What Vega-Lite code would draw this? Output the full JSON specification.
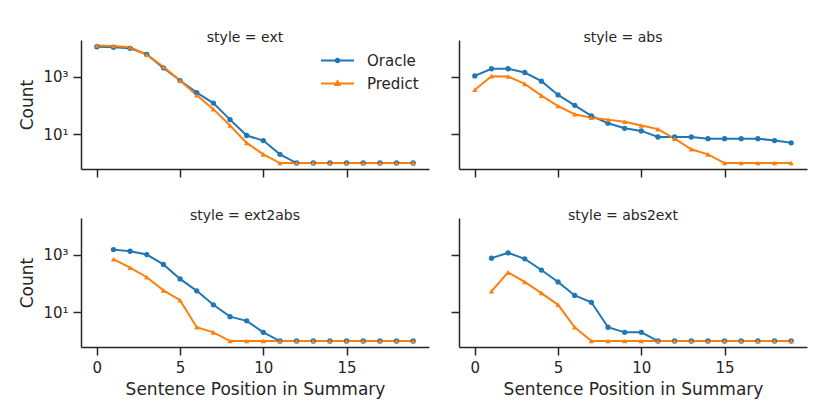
{
  "$schema": "https://vega.github.io/schema/vega-lite/v6.json",
  "autosize": {"type": "pad"},
  "padding": {"left": 18, "top": 31, "right": 10, "bottom": 10},
  "config": {
    "font": "DejaVu Sans",
    "view": {"stroke": null},
    "axis": {
      "grid": false,
      "domainColor": "#262626", "domainWidth": 1.5,
      "tickColor": "#262626", "tickWidth": 1.5, "tickSize": 8,
      "labelColor": "#262626", "labelFontSize": 15, "labelPadding": 5,
      "titleColor": "#262626", "titleFontSize": 17, "titleFontWeight": "normal", "titlePadding": 6
    },
    "title": {"fontSize": 14, "fontWeight": "normal", "color": "#262626", "baseline": "alphabetic", "offset": -5, "dx": -10},
    "legend": {"labelColor": "#262626", "labelFontSize": 15, "padding": 0, "rowPadding": 7}
  },
  "data": {"values": [
    {"style": "ext", "model": "Oracle", "pos": 0, "count": 10800},
    {"style": "ext", "model": "Oracle", "pos": 1, "count": 10300},
    {"style": "ext", "model": "Oracle", "pos": 2, "count": 9500},
    {"style": "ext", "model": "Oracle", "pos": 3, "count": 5850},
    {"style": "ext", "model": "Oracle", "pos": 4, "count": 2000},
    {"style": "ext", "model": "Oracle", "pos": 5, "count": 725},
    {"style": "ext", "model": "Oracle", "pos": 6, "count": 277},
    {"style": "ext", "model": "Oracle", "pos": 7, "count": 120},
    {"style": "ext", "model": "Oracle", "pos": 8, "count": 32},
    {"style": "ext", "model": "Oracle", "pos": 9, "count": 9},
    {"style": "ext", "model": "Oracle", "pos": 10, "count": 6},
    {"style": "ext", "model": "Oracle", "pos": 11, "count": 2},
    {"style": "ext", "model": "Oracle", "pos": 12, "count": 1},
    {"style": "ext", "model": "Oracle", "pos": 13, "count": 1},
    {"style": "ext", "model": "Oracle", "pos": 14, "count": 1},
    {"style": "ext", "model": "Oracle", "pos": 15, "count": 1},
    {"style": "ext", "model": "Oracle", "pos": 16, "count": 1},
    {"style": "ext", "model": "Oracle", "pos": 17, "count": 1},
    {"style": "ext", "model": "Oracle", "pos": 18, "count": 1},
    {"style": "ext", "model": "Oracle", "pos": 19, "count": 1},
    {"style": "ext", "model": "Predict", "pos": 0, "count": 12000},
    {"style": "ext", "model": "Predict", "pos": 1, "count": 11400},
    {"style": "ext", "model": "Predict", "pos": 2, "count": 10300},
    {"style": "ext", "model": "Predict", "pos": 3, "count": 5700},
    {"style": "ext", "model": "Predict", "pos": 4, "count": 2180},
    {"style": "ext", "model": "Predict", "pos": 5, "count": 725},
    {"style": "ext", "model": "Predict", "pos": 6, "count": 224},
    {"style": "ext", "model": "Predict", "pos": 7, "count": 74},
    {"style": "ext", "model": "Predict", "pos": 8, "count": 20},
    {"style": "ext", "model": "Predict", "pos": 9, "count": 5},
    {"style": "ext", "model": "Predict", "pos": 10, "count": 2},
    {"style": "ext", "model": "Predict", "pos": 11, "count": 1},
    {"style": "ext", "model": "Predict", "pos": 12, "count": 1},
    {"style": "ext", "model": "Predict", "pos": 13, "count": 1},
    {"style": "ext", "model": "Predict", "pos": 14, "count": 1},
    {"style": "ext", "model": "Predict", "pos": 15, "count": 1},
    {"style": "ext", "model": "Predict", "pos": 16, "count": 1},
    {"style": "ext", "model": "Predict", "pos": 17, "count": 1},
    {"style": "ext", "model": "Predict", "pos": 18, "count": 1},
    {"style": "ext", "model": "Predict", "pos": 19, "count": 1},
    {"style": "abs", "model": "Oracle", "pos": 0, "count": 1050},
    {"style": "abs", "model": "Oracle", "pos": 1, "count": 1860},
    {"style": "abs", "model": "Oracle", "pos": 2, "count": 1860},
    {"style": "abs", "model": "Oracle", "pos": 3, "count": 1380},
    {"style": "abs", "model": "Oracle", "pos": 4, "count": 690},
    {"style": "abs", "model": "Oracle", "pos": 5, "count": 230},
    {"style": "abs", "model": "Oracle", "pos": 6, "count": 100},
    {"style": "abs", "model": "Oracle", "pos": 7, "count": 43},
    {"style": "abs", "model": "Oracle", "pos": 8, "count": 24},
    {"style": "abs", "model": "Oracle", "pos": 9, "count": 16},
    {"style": "abs", "model": "Oracle", "pos": 10, "count": 13},
    {"style": "abs", "model": "Oracle", "pos": 11, "count": 8},
    {"style": "abs", "model": "Oracle", "pos": 12, "count": 8},
    {"style": "abs", "model": "Oracle", "pos": 13, "count": 8},
    {"style": "abs", "model": "Oracle", "pos": 14, "count": 7},
    {"style": "abs", "model": "Oracle", "pos": 15, "count": 7},
    {"style": "abs", "model": "Oracle", "pos": 16, "count": 7},
    {"style": "abs", "model": "Oracle", "pos": 17, "count": 7},
    {"style": "abs", "model": "Oracle", "pos": 18, "count": 6},
    {"style": "abs", "model": "Oracle", "pos": 19, "count": 5},
    {"style": "abs", "model": "Predict", "pos": 0, "count": 350},
    {"style": "abs", "model": "Predict", "pos": 1, "count": 1030},
    {"style": "abs", "model": "Predict", "pos": 2, "count": 1000},
    {"style": "abs", "model": "Predict", "pos": 3, "count": 555},
    {"style": "abs", "model": "Predict", "pos": 4, "count": 217},
    {"style": "abs", "model": "Predict", "pos": 5, "count": 95},
    {"style": "abs", "model": "Predict", "pos": 6, "count": 49},
    {"style": "abs", "model": "Predict", "pos": 7, "count": 37},
    {"style": "abs", "model": "Predict", "pos": 8, "count": 32},
    {"style": "abs", "model": "Predict", "pos": 9, "count": 27},
    {"style": "abs", "model": "Predict", "pos": 10, "count": 20},
    {"style": "abs", "model": "Predict", "pos": 11, "count": 15},
    {"style": "abs", "model": "Predict", "pos": 12, "count": 7},
    {"style": "abs", "model": "Predict", "pos": 13, "count": 3},
    {"style": "abs", "model": "Predict", "pos": 14, "count": 2},
    {"style": "abs", "model": "Predict", "pos": 15, "count": 1},
    {"style": "abs", "model": "Predict", "pos": 16, "count": 1},
    {"style": "abs", "model": "Predict", "pos": 17, "count": 1},
    {"style": "abs", "model": "Predict", "pos": 18, "count": 1},
    {"style": "abs", "model": "Predict", "pos": 19, "count": 1},
    {"style": "ext2abs", "model": "Oracle", "pos": 1, "count": 1480},
    {"style": "ext2abs", "model": "Oracle", "pos": 2, "count": 1300},
    {"style": "ext2abs", "model": "Oracle", "pos": 3, "count": 1000},
    {"style": "ext2abs", "model": "Oracle", "pos": 4, "count": 455},
    {"style": "ext2abs", "model": "Oracle", "pos": 5, "count": 143},
    {"style": "ext2abs", "model": "Oracle", "pos": 6, "count": 55},
    {"style": "ext2abs", "model": "Oracle", "pos": 7, "count": 18},
    {"style": "ext2abs", "model": "Oracle", "pos": 8, "count": 7},
    {"style": "ext2abs", "model": "Oracle", "pos": 9, "count": 5},
    {"style": "ext2abs", "model": "Oracle", "pos": 10, "count": 2},
    {"style": "ext2abs", "model": "Oracle", "pos": 11, "count": 1},
    {"style": "ext2abs", "model": "Oracle", "pos": 12, "count": 1},
    {"style": "ext2abs", "model": "Oracle", "pos": 13, "count": 1},
    {"style": "ext2abs", "model": "Oracle", "pos": 14, "count": 1},
    {"style": "ext2abs", "model": "Oracle", "pos": 15, "count": 1},
    {"style": "ext2abs", "model": "Oracle", "pos": 16, "count": 1},
    {"style": "ext2abs", "model": "Oracle", "pos": 17, "count": 1},
    {"style": "ext2abs", "model": "Oracle", "pos": 18, "count": 1},
    {"style": "ext2abs", "model": "Oracle", "pos": 19, "count": 1},
    {"style": "ext2abs", "model": "Predict", "pos": 1, "count": 690},
    {"style": "ext2abs", "model": "Predict", "pos": 2, "count": 350},
    {"style": "ext2abs", "model": "Predict", "pos": 3, "count": 163},
    {"style": "ext2abs", "model": "Predict", "pos": 4, "count": 57},
    {"style": "ext2abs", "model": "Predict", "pos": 5, "count": 26},
    {"style": "ext2abs", "model": "Predict", "pos": 6, "count": 3},
    {"style": "ext2abs", "model": "Predict", "pos": 7, "count": 2},
    {"style": "ext2abs", "model": "Predict", "pos": 8, "count": 1},
    {"style": "ext2abs", "model": "Predict", "pos": 9, "count": 1},
    {"style": "ext2abs", "model": "Predict", "pos": 10, "count": 1},
    {"style": "ext2abs", "model": "Predict", "pos": 11, "count": 1},
    {"style": "ext2abs", "model": "Predict", "pos": 12, "count": 1},
    {"style": "ext2abs", "model": "Predict", "pos": 13, "count": 1},
    {"style": "ext2abs", "model": "Predict", "pos": 14, "count": 1},
    {"style": "ext2abs", "model": "Predict", "pos": 15, "count": 1},
    {"style": "ext2abs", "model": "Predict", "pos": 16, "count": 1},
    {"style": "ext2abs", "model": "Predict", "pos": 17, "count": 1},
    {"style": "ext2abs", "model": "Predict", "pos": 18, "count": 1},
    {"style": "ext2abs", "model": "Predict", "pos": 19, "count": 1},
    {"style": "abs2ext", "model": "Oracle", "pos": 1, "count": 750},
    {"style": "abs2ext", "model": "Oracle", "pos": 2, "count": 1140},
    {"style": "abs2ext", "model": "Oracle", "pos": 3, "count": 710},
    {"style": "abs2ext", "model": "Oracle", "pos": 4, "count": 290},
    {"style": "abs2ext", "model": "Oracle", "pos": 5, "count": 112},
    {"style": "abs2ext", "model": "Oracle", "pos": 6, "count": 38},
    {"style": "abs2ext", "model": "Oracle", "pos": 7, "count": 22},
    {"style": "abs2ext", "model": "Oracle", "pos": 8, "count": 3},
    {"style": "abs2ext", "model": "Oracle", "pos": 9, "count": 2},
    {"style": "abs2ext", "model": "Oracle", "pos": 10, "count": 2},
    {"style": "abs2ext", "model": "Oracle", "pos": 11, "count": 1},
    {"style": "abs2ext", "model": "Oracle", "pos": 12, "count": 1},
    {"style": "abs2ext", "model": "Oracle", "pos": 13, "count": 1},
    {"style": "abs2ext", "model": "Oracle", "pos": 14, "count": 1},
    {"style": "abs2ext", "model": "Oracle", "pos": 15, "count": 1},
    {"style": "abs2ext", "model": "Oracle", "pos": 16, "count": 1},
    {"style": "abs2ext", "model": "Oracle", "pos": 17, "count": 1},
    {"style": "abs2ext", "model": "Oracle", "pos": 18, "count": 1},
    {"style": "abs2ext", "model": "Oracle", "pos": 19, "count": 1},
    {"style": "abs2ext", "model": "Predict", "pos": 1, "count": 53},
    {"style": "abs2ext", "model": "Predict", "pos": 2, "count": 240},
    {"style": "abs2ext", "model": "Predict", "pos": 3, "count": 112},
    {"style": "abs2ext", "model": "Predict", "pos": 4, "count": 46},
    {"style": "abs2ext", "model": "Predict", "pos": 5, "count": 18},
    {"style": "abs2ext", "model": "Predict", "pos": 6, "count": 3},
    {"style": "abs2ext", "model": "Predict", "pos": 7, "count": 1},
    {"style": "abs2ext", "model": "Predict", "pos": 8, "count": 1},
    {"style": "abs2ext", "model": "Predict", "pos": 9, "count": 1},
    {"style": "abs2ext", "model": "Predict", "pos": 10, "count": 1},
    {"style": "abs2ext", "model": "Predict", "pos": 11, "count": 1},
    {"style": "abs2ext", "model": "Predict", "pos": 12, "count": 1},
    {"style": "abs2ext", "model": "Predict", "pos": 13, "count": 1},
    {"style": "abs2ext", "model": "Predict", "pos": 14, "count": 1},
    {"style": "abs2ext", "model": "Predict", "pos": 15, "count": 1},
    {"style": "abs2ext", "model": "Predict", "pos": 16, "count": 1},
    {"style": "abs2ext", "model": "Predict", "pos": 17, "count": 1},
    {"style": "abs2ext", "model": "Predict", "pos": 18, "count": 1},
    {"style": "abs2ext", "model": "Predict", "pos": 19, "count": 1}
  ]},
  "columns": 2,
  "spacing": {"row": 31, "column": 21},
  "concat": [
    {
      "width": 348, "height": 129,
      "title": "style = ext",
      "transform": [{"filter": "datum.style == 'ext'"}],
      "layer": [
        {
          "mark": {"type": "line", "strokeWidth": 2},
          "encoding": {
            "x": {"field": "pos", "type": "quantitative", "scale": {"domain": [-0.95, 19.95], "nice": false, "zero": false}, "axis": {"values": [0, 5, 10, 15], "labels": false, "title": null}},
            "y": {"field": "count", "type": "quantitative", "scale": {"type": "log", "domain": [0.62, 18500], "nice": false}, "axis": {"values": [10, 1000], "labelExpr": "datum.value == 1000 ? '10³' : '10¹'", "title": "Count"}},
            "stroke": {"field": "model", "type": "nominal", "scale": {"domain": ["Oracle", "Predict"], "range": ["#1f77b4", "#ff7f0e"]}, "legend": {
              "orient": "none", "legendX": 249, "legendY": 13, "title": null,
              "symbolType": "M-3,0H3", "symbolSize": 121, "symbolStrokeWidth": 2, "labelOffset": 22,
              "encode": {"symbols": {"update": {
                "shape": {"signal": "datum.value == 'Oracle' ? 'M-3,0H3M-0.3,0A0.3,0.3 0 1,0 0.3,0A0.3,0.3 0 1,0 -0.3,0Z' : 'M-3,0H3M0,-0.4L0.36,0.25L-0.36,0.25Z'"},
                "fill": {"scale": "stroke", "field": "value"},
                "strokeWidth": {"value": 2}
              }}}
            }}
          }
        },
        {
          "mark": {"type": "point", "filled": true, "size": 28, "opacity": 1},
          "encoding": {
            "x": {"field": "pos", "type": "quantitative"},
            "y": {"field": "count", "type": "quantitative"},
            "color": {"field": "model", "type": "nominal", "scale": {"range": ["#1f77b4", "#ff7f0e"]}, "legend": null},
            "shape": {"field": "model", "type": "nominal", "scale": {"range": ["circle", "triangle-up"]}, "legend": null}
          }
        }
      ]
    },
    {
      "width": 348, "height": 129,
      "title": "style = abs",
      "transform": [{"filter": "datum.style == 'abs'"}],
      "layer": [
        {
          "mark": {"type": "line", "strokeWidth": 2},
          "encoding": {
            "x": {"field": "pos", "type": "quantitative", "scale": {"domain": [-0.95, 19.95], "nice": false, "zero": false}, "axis": {"values": [0, 5, 10, 15], "labels": false, "title": null}},
            "y": {"field": "count", "type": "quantitative", "scale": {"type": "log", "domain": [0.62, 18500], "nice": false}, "axis": {"values": [10, 1000], "labels": false, "title": null}},
            "stroke": {"field": "model", "type": "nominal"}
          }
        },
        {
          "mark": {"type": "point", "filled": true, "size": 28, "opacity": 1},
          "encoding": {
            "x": {"field": "pos", "type": "quantitative"},
            "y": {"field": "count", "type": "quantitative"},
            "color": {"field": "model", "type": "nominal", "legend": null},
            "shape": {"field": "model", "type": "nominal", "legend": null}
          }
        }
      ]
    },
    {
      "width": 348, "height": 129,
      "title": "style = ext2abs",
      "transform": [{"filter": "datum.style == 'ext2abs'"}],
      "layer": [
        {
          "mark": {"type": "line", "strokeWidth": 2},
          "encoding": {
            "x": {"field": "pos", "type": "quantitative", "scale": {"domain": [-0.95, 19.95], "nice": false, "zero": false}, "axis": {"values": [0, 5, 10, 15], "title": "Sentence Position in Summary"}},
            "y": {"field": "count", "type": "quantitative", "scale": {"type": "log", "domain": [0.62, 18500], "nice": false}, "axis": {"values": [10, 1000], "labelExpr": "datum.value == 1000 ? '10³' : '10¹'", "title": "Count"}},
            "stroke": {"field": "model", "type": "nominal"}
          }
        },
        {
          "mark": {"type": "point", "filled": true, "size": 28, "opacity": 1},
          "encoding": {
            "x": {"field": "pos", "type": "quantitative"},
            "y": {"field": "count", "type": "quantitative"},
            "color": {"field": "model", "type": "nominal", "legend": null},
            "shape": {"field": "model", "type": "nominal", "legend": null}
          }
        }
      ]
    },
    {
      "width": 348, "height": 129,
      "title": "style = abs2ext",
      "transform": [{"filter": "datum.style == 'abs2ext'"}],
      "layer": [
        {
          "mark": {"type": "line", "strokeWidth": 2},
          "encoding": {
            "x": {"field": "pos", "type": "quantitative", "scale": {"domain": [-0.95, 19.95], "nice": false, "zero": false}, "axis": {"values": [0, 5, 10, 15], "title": "Sentence Position in Summary"}},
            "y": {"field": "count", "type": "quantitative", "scale": {"type": "log", "domain": [0.62, 18500], "nice": false}, "axis": {"values": [10, 1000], "labels": false, "title": null}},
            "stroke": {"field": "model", "type": "nominal"}
          }
        },
        {
          "mark": {"type": "point", "filled": true, "size": 28, "opacity": 1},
          "encoding": {
            "x": {"field": "pos", "type": "quantitative"},
            "y": {"field": "count", "type": "quantitative"},
            "color": {"field": "model", "type": "nominal", "legend": null},
            "shape": {"field": "model", "type": "nominal", "legend": null}
          }
        }
      ]
    }
  ]
}
